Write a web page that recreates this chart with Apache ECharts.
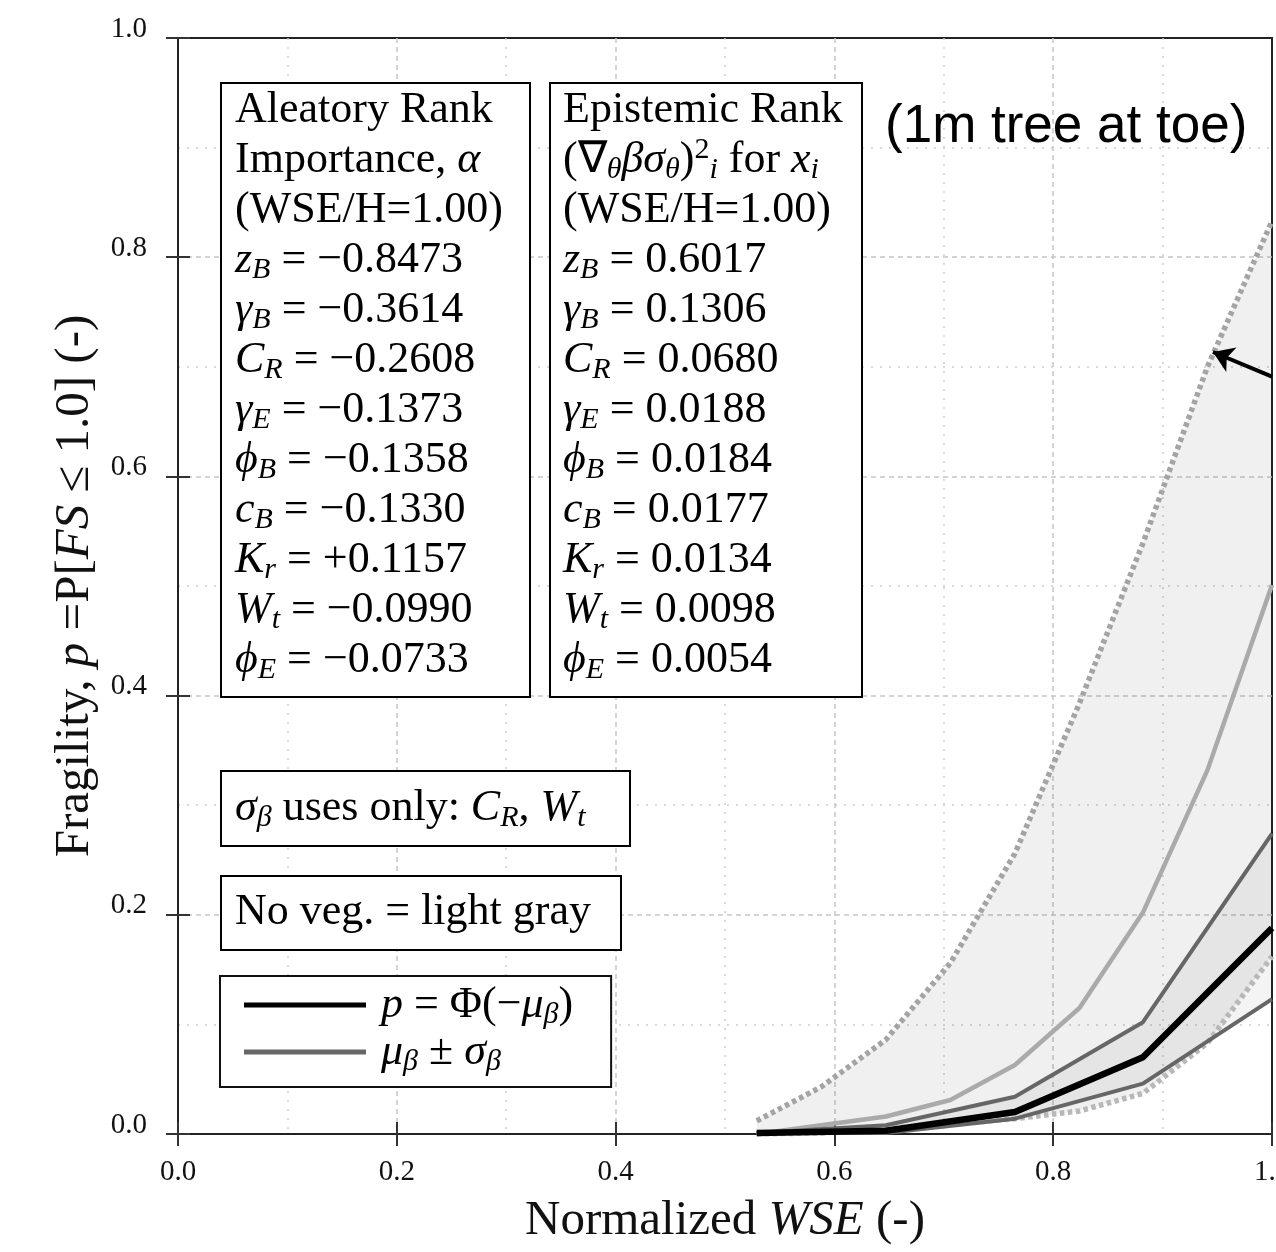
<!DOCTYPE html>
<html>
<head>
<meta charset="utf-8">
<script src="https://cdn.jsdelivr.net/npm/echarts@6/dist/echarts.min.js"></script>
<style>
  html, body { margin: 0; padding: 0; background: #fff; }
  #chart { width: 1276px; height: 1252px; }
</style>
</head>
<body>
<div id="chart"></div>
<script>
// --- data ---
// no vegetation (light gray) : mean and +/- sigma bounds
const nvX = [0.529, 0.588, 0.647, 0.706, 0.765, 0.824, 0.882, 0.941, 1.0];
const nvMean = [0.0, 0.008, 0.016, 0.031, 0.063, 0.115, 0.202, 0.332, 0.501];
const nvUpper = [0.012, 0.043, 0.086, 0.156, 0.256, 0.393, 0.539, 0.700, 0.833];
const nvLower = [0.0, 0.001, 0.005, 0.009, 0.014, 0.021, 0.037, 0.083, 0.162];

// 1m tree at toe : mean and +/- sigma bounds
const vegX = [0.529, 0.647, 0.765, 0.882, 1.0];
const vegMean = [0.001, 0.003, 0.020, 0.070, 0.188];
const vegUpper = [0.001, 0.008, 0.034, 0.102, 0.274];
const vegLower = [0.001, 0.001, 0.014, 0.046, 0.123];

// annotation arrow (tail, head) in data units
const arrowTail = [1.0, 0.691];
const arrowHead = [0.946, 0.7135];

// text boxes
const rankSymbols = ['z', 'γ', 'C', 'γ', 'ϕ', 'c', 'K', 'W', 'ϕ'];
const rankSubs = ['B', 'B', 'R', 'E', 'B', 'B', 'r', 't', 'E'];
const aleatoryValues = ['−0.8473', '−0.3614', '−0.2608', '−0.1373', '−0.1358', '−0.1330', '+0.1157', '−0.0990', '−0.0733'];
const epistemicValues = ['0.6017', '0.1306', '0.0680', '0.0188', '0.0184', '0.0177', '0.0134', '0.0098', '0.0054'];

const MEAN_NAME = 'p = Φ(−μβ)';
const BAND_NAME = 'μβ ± σβ';

const SERIF = 'Liberation Serif';
const FS = 44;

const pairs = (xs, ys) => xs.map((x, i) => [x, ys[i]]);

// filled band between two bounds, drawn through the grid's coordinate system
const bandSeries = (xs, hi, lo, fill) => ({
  type: 'custom',
  silent: true,
  z: 1,
  data: [[xs[0], lo[0]]],
  encode: { x: 0, y: 1 },
  renderItem: (params, api) => {
    const top = xs.map((x, i) => api.coord([x, hi[i]]));
    const bottom = xs.map((x, i) => api.coord([x, lo[i]])).reverse();
    return { type: 'polygon', shape: { points: top.concat(bottom) }, style: { fill: fill } };
  }
});

// rich styles for zrender text (graphic)
const boxRich = {
  r: { fontFamily: SERIF, fontSize: FS, lineHeight: 50, fill: '#000' },
  i: { fontFamily: SERIF, fontSize: FS, lineHeight: 50, fontStyle: 'italic', fill: '#000' },
  s: { fontFamily: SERIF, fontSize: 30, lineHeight: 26, fontStyle: 'italic', verticalAlign: 'bottom', fill: '#000' },
  u: { fontFamily: SERIF, fontSize: 30, lineHeight: 30, verticalAlign: 'top', fill: '#000' }
};

const rankLines = (values) => rankSymbols.map((sym, k) =>
  `{i|${sym}}{s|${rankSubs[k]}}{r| = ${values[k]}}`);

const aleatoryText = [
  '{r|Aleatory Rank}',
  '{r|Importance, }{i|α}',
  '{r|(WSE/H=1.00)}'
].concat(rankLines(aleatoryValues)).join('\n');

const epistemicText = [
  '{r|Epistemic Rank}',
  '{r|(∇}{s|θ}{i|βσ}{s|θ}{r|)}{u|2}{s|i}{r| for }{i|x}{s|i}',
  '{r|(WSE/H=1.00)}'
].concat(rankLines(epistemicValues)).join('\n');

const sigmaText = '{i|σ}{s|β}{r| uses only: }{i|C}{s|R}{r|, }{i|W}{s|t}';
const noVegText = '{r|No veg. = light gray}';

const legendLabels = {};
legendLabels[MEAN_NAME] = '{i|p}{r| = Φ(−}{i|μ}{s|β}{r|)}';
legendLabels[BAND_NAME] = '{i|μ}{s|β}{r| ± }{i|σ}{s|β}';

const chart = echarts.init(document.getElementById('chart'));

const majorGrid = { show: true, showMinLine: false, showMaxLine: false,
  lineStyle: { color: '#c6c6c6', width: 1.5, type: [5, 4] } };
const minorGrid = { show: true, lineStyle: { color: '#cdcdcd', width: 1.5, type: [2, 7] } };
const tickStyle = { show: true, inside: true, length: 12, lineStyle: { color: '#333', width: 2 } };
const frameLine = { show: true, lineStyle: { color: '#222', width: 2 } };
const labelFont = { fontFamily: SERIF, fontSize: 29, color: '#111' };
const nameRich = {
  r: { fontFamily: SERIF, fontSize: 49, color: '#111' },
  i: { fontFamily: SERIF, fontSize: 49, fontStyle: 'italic', color: '#111' }
};

const option = {
  animation: false,
  backgroundColor: '#fff',
  title: {
    text: '(1m tree at toe)',
    left: 885,
    top: 101,
    padding: 0,
    textStyle: { fontFamily: 'Liberation Sans', fontSize: 53, fontWeight: 'normal', color: '#000' }
  },
  grid: {
    left: 178, right: 4, top: 38, bottom: 118,
    outerBoundsMode: 'none',
    containLabel: false,
    show: true, borderColor: '#222', borderWidth: 2, backgroundColor: '#fff'
  },
  xAxis: [
    {
      type: 'value', min: 0, max: 1, interval: 0.2,
      axisLine: frameLine,
      axisTick: tickStyle,
      minorTick: { show: false, splitNumber: 2 },
      splitLine: majorGrid,
      minorSplitLine: minorGrid,
      axisLabel: Object.assign({ margin: 24, formatter: v => v.toFixed(1) }, labelFont),
      name: '{r|Normalized }{i|WSE}{r| (-)}',
      nameLocation: 'middle',
      nameGap: 63,
      nameTextStyle: { rich: nameRich }
    },
    {
      type: 'value', min: 0, max: 1, interval: 0.2, position: 'top',
      axisLine: frameLine, axisTick: tickStyle, axisLabel: { show: false },
      splitLine: { show: false }
    }
  ],
  yAxis: [
    {
      type: 'value', min: 0, max: 1, interval: 0.2,
      axisLine: frameLine,
      axisTick: tickStyle,
      minorTick: { show: false, splitNumber: 2 },
      splitLine: majorGrid,
      minorSplitLine: minorGrid,
      axisLabel: Object.assign({ margin: 31, verticalAlign: 'bottom', lineHeight: 18,
        formatter: v => v.toFixed(1) }, labelFont),
      name: '{r|Fragility, }{i|p}{r| =P[}{i|FS}{r| ≤ 1.0] (-)}',
      nameLocation: 'middle',
      nameGap: 78,
      nameTextStyle: { rich: nameRich }
    },
    {
      type: 'value', min: 0, max: 1, interval: 0.2, position: 'right',
      axisLine: frameLine, axisTick: tickStyle, axisLabel: { show: false },
      splitLine: { show: false }
    }
  ],
  legend: {
    data: [{ name: MEAN_NAME, icon: 'rect' }, { name: BAND_NAME, icon: 'rect' }],
    orient: 'vertical',
    left: 220,
    top: 976,
    itemWidth: 122,
    itemHeight: 5,
    itemGap: 0,
    padding: [7, 38, 10, 24],
    borderColor: '#111',
    borderWidth: 2,
    backgroundColor: '#fff',
    selectedMode: false,
    z: 100,
    formatter: name => legendLabels[name],
    textStyle: {
      padding: [0, 0, 0, 10],
      rich: {
        r: { fontFamily: SERIF, fontSize: FS, lineHeight: 50, color: '#000' },
        i: { fontFamily: SERIF, fontSize: FS, lineHeight: 50, fontStyle: 'italic', color: '#000' },
        s: { fontFamily: SERIF, fontSize: 30, lineHeight: 26, fontStyle: 'italic', verticalAlign: 'bottom', color: '#000' }
      }
    }
  },
  series: [
    // shaded bands
    bandSeries(nvX, nvUpper, nvLower, 'rgba(0,0,0,0.06)'),
    bandSeries(vegX, vegUpper, vegLower, 'rgba(0,0,0,0.045)'),
    // no vegetation bounds (dotted) and mean
    {
      name: 'nvUpper', type: 'line', data: pairs(nvX, nvUpper), symbol: 'none', z: 2,
      lineStyle: { color: '#a4a4a4', width: 5.5, type: [4.5, 3.5], cap: 'butt' }
    },
    {
      name: 'nvLower', type: 'line', data: pairs(nvX, nvLower), symbol: 'none', z: 2,
      lineStyle: { color: '#b8b8b8', width: 5.5, type: [4.5, 3.5], cap: 'butt' }
    },
    {
      name: 'nvMean', type: 'line', data: pairs(nvX, nvMean), symbol: 'none', z: 3,
      lineStyle: { color: '#aaaaaa', width: 4.5 }
    },
    // tree at toe bounds and mean
    {
      name: BAND_NAME, type: 'line', data: pairs(vegX, vegUpper), symbol: 'none', z: 4,
      itemStyle: { color: '#666666' }, lineStyle: { color: '#666666', width: 4 }
    },
    {
      name: BAND_NAME, type: 'line', data: pairs(vegX, vegLower), symbol: 'none', z: 4,
      itemStyle: { color: '#666666' }, lineStyle: { color: '#666666', width: 4 }
    },
    {
      name: MEAN_NAME, type: 'line', data: pairs(vegX, vegMean), symbol: 'none', z: 5,
      itemStyle: { color: '#000' }, lineStyle: { color: '#000', width: 6.5 },
      markLine: {
        silent: true,
        symbol: ['none', 'arrow'],
        symbolSize: 20,
        label: { show: false },
        itemStyle: { color: '#000' },
        lineStyle: { color: '#000', width: 4, type: 'solid' },
        data: [[{ coord: arrowTail }, { coord: arrowHead }]]
      }
    }
  ],
  graphic: [
    { type: 'rect', z: 100, shape: { x: 221, y: 83, width: 309, height: 614 },
      style: { fill: '#fff', stroke: '#000', lineWidth: 2 } },
    { type: 'text', z: 101, x: 235, y: 85,
      style: { text: aleatoryText, rich: boxRich, align: 'left', verticalAlign: 'top' } },
    { type: 'rect', z: 100, shape: { x: 550, y: 83, width: 312, height: 614 },
      style: { fill: '#fff', stroke: '#000', lineWidth: 2 } },
    { type: 'text', z: 101, x: 563, y: 85,
      style: { text: epistemicText, rich: boxRich, align: 'left', verticalAlign: 'top' } },
    { type: 'rect', z: 100, shape: { x: 221, y: 771, width: 409, height: 75 },
      style: { fill: '#fff', stroke: '#000', lineWidth: 2 } },
    { type: 'text', z: 101, x: 235, y: 783,
      style: { text: sigmaText, rich: boxRich, align: 'left', verticalAlign: 'top' } },
    { type: 'rect', z: 100, shape: { x: 221, y: 876, width: 400, height: 74 },
      style: { fill: '#fff', stroke: '#000', lineWidth: 2 } },
    { type: 'text', z: 101, x: 235, y: 887,
      style: { text: noVegText, rich: boxRich, align: 'left', verticalAlign: 'top' } }
  ]
};

chart.setOption(option);
</script>
</body>
</html>
